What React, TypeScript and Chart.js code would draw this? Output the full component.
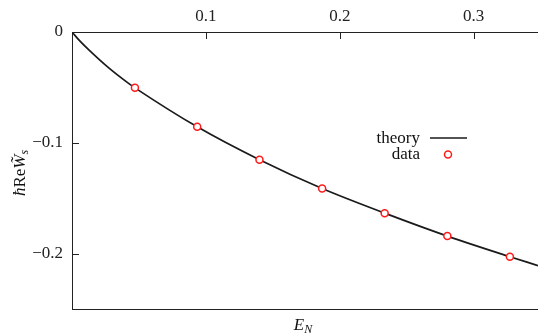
import React, { useEffect, useRef } from 'react';
import { Chart, registerables } from 'chart.js';

Chart.register(...registerables);

// ---- data ----
const dataE = [0.047, 0.0935, 0.140, 0.1868, 0.2335, 0.2803, 0.327];
const dataW = [-0.0504, -0.0856, -0.1153, -0.1413, -0.1635, -0.1842, -0.2028];
const theoryE = [0, 0.006, 0.012, 0.027, 0.042, 0.047, 0.0935, 0.140, 0.1868, 0.2335, 0.2803, 0.327, 0.348];
const theoryW = [0, -0.0083, -0.0155, -0.032, -0.0462, -0.0504, -0.0856, -0.1153, -0.1413, -0.1635, -0.1842, -0.2028, -0.2108];
const xTicks = [0.1, 0.2, 0.3];
const yTicks = [0, -0.1, -0.2];
const seriesLabels = ['theory', 'data'];

const SERIF = '"Liberation Serif", "Times New Roman", serif';
const AXIS = '#222';
const LINE = '#1a1a1a';
const RED = '#ff1a1a';

Chart.defaults.font.family = SERIF;

type Run = { text: string; italic?: boolean; size: number; dy?: number };

function drawRuns(ctx: CanvasRenderingContext2D, runs: Run[], cx: number, baseline: number) {
  const fontOf = (r: Run) => `${r.italic ? 'italic ' : ''}${r.size}px ${SERIF}`;
  let total = 0;
  const widths = runs.map((r) => {
    ctx.font = fontOf(r);
    const w = ctx.measureText(r.text).width;
    total += w;
    return w;
  });
  let x = cx - total / 2;
  ctx.textAlign = 'left';
  ctx.textBaseline = 'alphabetic';
  runs.forEach((r, i) => {
    ctx.font = fontOf(r);
    ctx.fillText(r.text, x, baseline + (r.dy || 0));
    x += widths[i];
  });
}

const decor = {
  id: 'decor',
  afterDraw(chart: any) {
    const { ctx, chartArea, scales } = chart;
    const { left, top } = chartArea;
    ctx.save();
    ctx.strokeStyle = AXIS;
    ctx.lineWidth = 1;
    // inward tick marks
    ctx.beginPath();
    scales.x.ticks.forEach((t: any) => {
      const px = Math.round(scales.x.getPixelForValue(t.value)) + 0.5;
      ctx.moveTo(px, top);
      ctx.lineTo(px, top + 7);
    });
    scales.y.ticks.forEach((t: any) => {
      const py = Math.round(scales.y.getPixelForValue(t.value)) + 0.5;
      ctx.moveTo(left, py);
      ctx.lineTo(left + 7, py);
    });
    ctx.stroke();

    ctx.fillStyle = '#111';
    // x title: E_N
    drawRuns(
      ctx,
      [
        { text: 'E', italic: true, size: 17 },
        { text: 'N', italic: true, size: 12, dy: 3 },
      ],
      303,
      330
    );
    // y title: ħ Re W̃_s (rotated)
    ctx.save();
    ctx.translate(25, 173);
    ctx.rotate(-Math.PI / 2);
    drawRuns(
      ctx,
      [
        { text: 'ħ', italic: true, size: 17 },
        { text: 'Re', size: 17 },
        { text: 'W\u0303', italic: true, size: 17 },
        { text: 's', italic: true, size: 12, dy: 3 },
      ],
      0,
      0
    );
    ctx.restore();

    // legend
    const ds = chart.data.datasets;
    ctx.font = `17px ${SERIF}`;
    ctx.textAlign = 'right';
    ctx.textBaseline = 'alphabetic';
    ctx.fillStyle = '#111';
    ctx.fillText(ds[1].label, 420, 143);
    ctx.fillText(ds[0].label, 420, 159);
    ctx.strokeStyle = ds[1].borderColor;
    ctx.lineWidth = ds[1].borderWidth;
    ctx.beginPath();
    ctx.moveTo(430, 138);
    ctx.lineTo(467, 138);
    ctx.stroke();
    ctx.beginPath();
    ctx.arc(448, 154.5, ds[0].pointRadius, 0, Math.PI * 2);
    ctx.fillStyle = ds[0].pointBackgroundColor;
    ctx.fill();
    ctx.strokeStyle = ds[0].pointBorderColor;
    ctx.lineWidth = ds[0].pointBorderWidth;
    ctx.stroke();
    ctx.restore();
  },
};

export default function App() {
  const ref = useRef<HTMLCanvasElement | null>(null);
  useEffect(() => {
    if (!ref.current) return;
    const chart = new Chart(ref.current, {
      type: 'line',
      data: {
        datasets: [
          {
            label: seriesLabels[1],
            data: dataE.map((x, i) => ({ x, y: dataW[i] })),
            showLine: false,
            pointRadius: 3.5,
            pointBorderWidth: 1.5,
            pointBorderColor: RED,
            pointBackgroundColor: '#ffffff',
            order: 0,
          },
          {
            label: seriesLabels[0],
            data: theoryE.map((x, i) => ({ x, y: theoryW[i] })),
            borderColor: LINE,
            borderWidth: 1.7,
            pointRadius: 0,
            cubicInterpolationMode: 'monotone',
            fill: false,
            order: 1,
          },
        ],
      } as any,
      options: {
        responsive: false,
        animation: false,
        devicePixelRatio: 1,
        layout: { padding: 0, autoPadding: false },
        plugins: { legend: { display: false }, tooltip: { enabled: false } },
        scales: {
          x: {
            type: 'linear',
            position: 'top',
            min: 0,
            max: 0.348,
            afterFit: (s: any) => {
              s.height = 32;
              s.paddingLeft = 0;
              s.paddingRight = 0;
            },
            afterBuildTicks: (s: any) => {
              s.ticks = xTicks.map((v) => ({ value: v }));
            },
            grid: { display: true, drawOnChartArea: false, drawTicks: false },
            border: { display: true, color: AXIS, width: 1 },
            ticks: {
              padding: 5,
              maxRotation: 0,
              color: '#222',
              font: { family: SERIF, size: 17 },
              callback: (v: any) => Number(v).toFixed(1),
            },
          },
          x2: {
            type: 'linear',
            position: 'bottom',
            min: 0,
            max: 0.348,
            afterFit: (s: any) => {
              s.height = 24;
              s.paddingLeft = 0;
              s.paddingRight = 0;
            },
            grid: { display: true, drawOnChartArea: false, drawTicks: false },
            border: { display: true, color: AXIS, width: 1 },
            ticks: { display: false },
          },
          y: {
            type: 'linear',
            position: 'left',
            min: -0.25,
            max: 0,
            afterFit: (s: any) => {
              s.width = 72;
              s.paddingTop = 0;
              s.paddingBottom = 0;
            },
            afterBuildTicks: (s: any) => {
              s.ticks = yTicks.map((v) => ({ value: v }));
            },
            grid: { display: true, drawOnChartArea: false, drawTicks: false },
            border: { display: true, color: AXIS, width: 1 },
            ticks: {
              padding: 9,
              color: '#222',
              font: { family: SERIF, size: 17 },
              callback: (v: any) => (Number(v) === 0 ? '0' : '\u2212' + Math.abs(Number(v)).toFixed(1)),
            },
          },
        },
      } as any,
      plugins: [decor],
    });
    return () => chart.destroy();
  }, []);
  return (
    <div style={{ position: 'fixed', left: 0, top: 0, width: 538, height: 333, background: '#fff' }}>
      <canvas ref={ref} width={538} height={333} style={{ display: 'block' }} />
    </div>
  );
}
